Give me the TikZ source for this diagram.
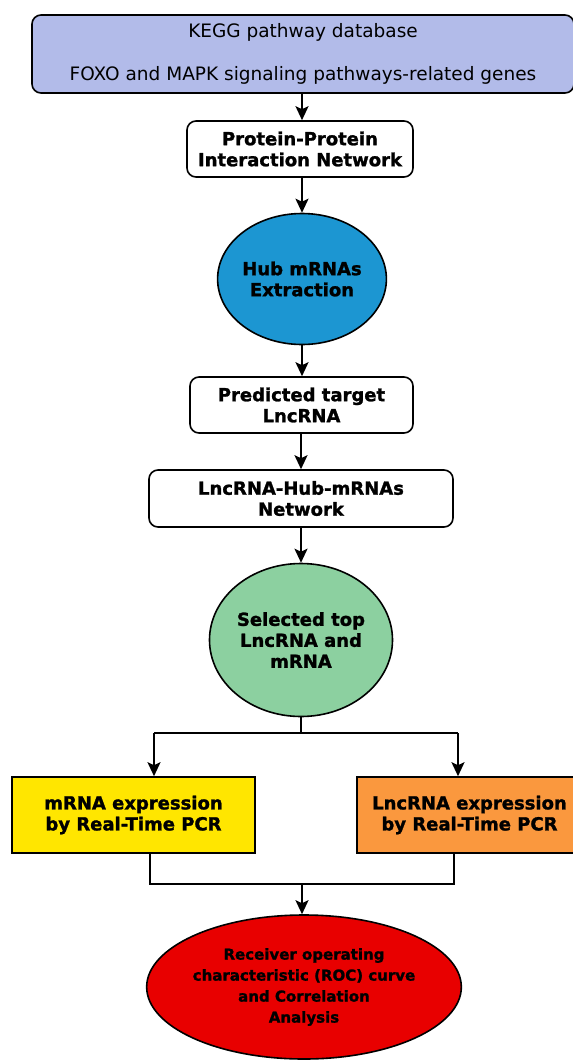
\documentclass[tikz,border=0pt]{standalone}
\usepackage{fontspec}
\setmainfont{DejaVu Sans}[BoldFeatures={FakeBold=1.4}]
\usetikzlibrary{arrows.meta,shapes.geometric}
\definecolor{KeggLavender}{RGB}{178,187,233}
\definecolor{HubBlue}{RGB}{28,150,210}
\definecolor{SelGreen}{RGB}{140,208,160}
\definecolor{PcrYellow}{RGB}{255,230,0}
\definecolor{PcrOrange}{RGB}{250,152,62}
\definecolor{RocRed}{RGB}{232,0,0}

\begin{document}
\begin{tikzpicture}[x=1pt,y=-1pt,
    roundbox/.style={draw,line width=1.6pt,rounded corners=9pt,fill=white,
      align=center,inner sep=0pt,font=\fontsize{18}{21}\selectfont\bfseries},
    ovalnode/.style={ellipse,draw,line width=1.6pt,align=center,inner sep=0pt,
      font=\fontsize{18}{21}\selectfont\bfseries},
    pcrbox/.style={draw,line width=1.6pt,align=center,inner sep=0pt,
      font=\fontsize{18}{21}\selectfont\bfseries},
    arr/.style={line width=2pt,-{Stealth[length=14pt,width=13pt,inset=3pt]}},
    link/.style={line width=2pt}
  ]
  \useasboundingbox (0,0) rectangle (573,1061);
  \fill[white] (0,0) rectangle (573,1061);

  % top database box
  \node[roundbox,fill=KeggLavender,minimum width=542pt,minimum height=78pt,
        font=\fontsize{18.5}{21}\selectfont] (kegg) at (303,54)
    {KEGG pathway database\\[22pt]FOXO and MAPK signaling pathways-related genes};

  % main column
  \node[roundbox,minimum width=226pt,minimum height=56pt] (ppi) at (300,149)
    {Protein-Protein\\Interaction Network};
  \node[ovalnode,fill=HubBlue,minimum width=156pt,minimum height=131pt] (hub) at (302,279)
    {Hub mRNAs\\Extraction};
  \node[roundbox,minimum width=223pt,minimum height=56pt] (pred) at (301.5,405)
    {Predicted target\\LncRNA};
  \node[roundbox,minimum width=304pt,minimum height=57pt] (net) at (301,498.5)
    {LncRNA-Hub-mRNAs\\Network};
  \node[ovalnode,fill=SelGreen,minimum width=183pt,minimum height=153pt] (sel) at (301,640)
    {Selected top\\LncRNA and\\mRNA};

  % two PCR branches
  \node[pcrbox,fill=PcrYellow,minimum width=243pt,minimum height=76pt] (mrna) at (133.5,815)
    {mRNA expression\\by Real-Time PCR};
  \node[pcrbox,fill=PcrOrange,minimum width=225pt,minimum height=76pt] (lnc) at (469.5,815)
    {LncRNA expression\\by Real-Time PCR};

  \node[ovalnode,fill=RocRed,minimum width=310pt,minimum height=144pt,
        font=\fontsize{15}{21}\selectfont\bfseries] (roc) at (304,987)
    {Receiver operating\\characteristic (ROC) curve\\and Correlation\\Analysis};

  \coordinate (bl) at (154,733);
  \coordinate (br) at (458,733);
  \coordinate (ml) at (150,884);
  \coordinate (mr) at (454,884);

  \draw[arr] (302,0 |- kegg.south) -- (302,0 |- ppi.north);
  \draw[arr] (ppi.south -| hub.north) -- (hub.north);
  \draw[arr] (hub.south) -- (hub.south |- pred.north);
  \draw[arr] (pred.south -| sel.north) -- (sel.north |- net.north);
  \draw[arr] (net.south -| sel.north) -- (sel.north);

  \draw[link] (sel.south) |- (bl);
  \draw[link] (sel.south) |- (br);
  \draw[arr] (bl) -- (bl |- mrna.north);
  \draw[arr] (br) -- (br |- lnc.north);

  \draw[link] (ml |- mrna.south) -- (ml) -- (mr) -- (mr |- lnc.south);
  \draw[arr] (302,0 |- ml) -- (302,0 |- roc.north);
\end{tikzpicture}
\end{document}
